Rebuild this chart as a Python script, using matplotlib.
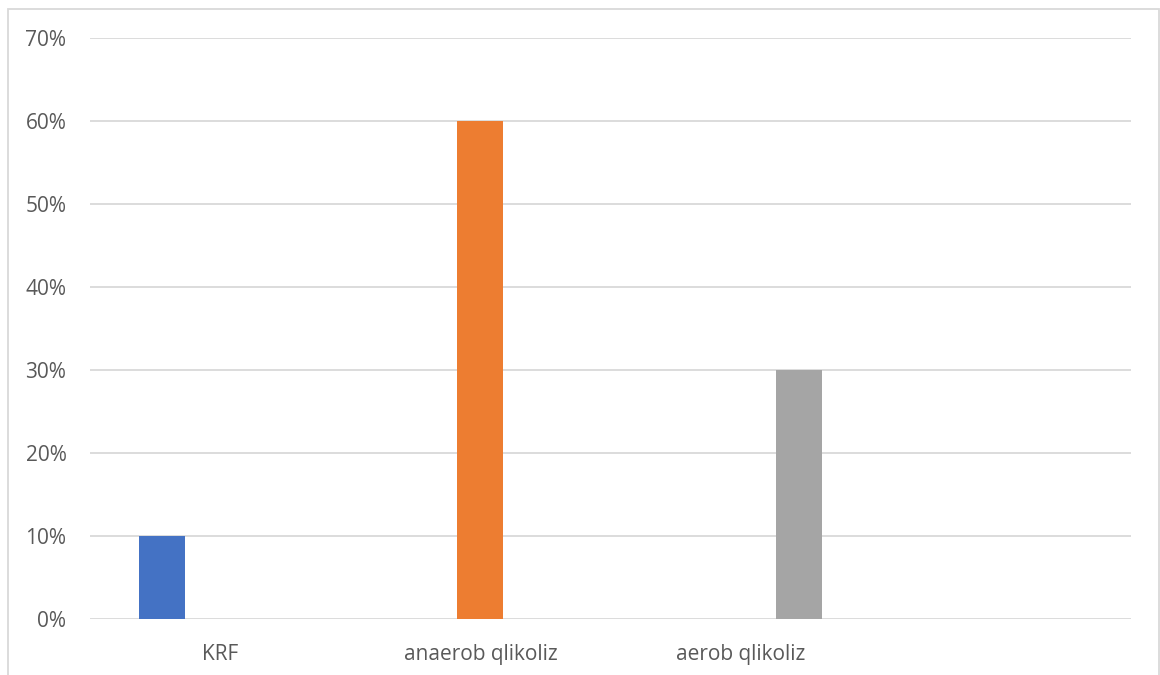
import matplotlib
matplotlib.use("Agg")
import matplotlib.pyplot as plt
from matplotlib.patches import Rectangle
from matplotlib.ticker import FuncFormatter
import numpy as np

categories = ["KRF", "anaerob qlikoliz", "aerob qlikoliz", ""]
series1 = [0.10, 0.0, 0.0, 0.0]
series2 = [0.0, 0.60, 0.0, 0.0]
series3 = [0.0, 0.0, 0.30, 0.0]
colors = ["#4472C4", "#ED7D31", "#A5A5A5"]

plt.rcParams["font.family"] = ["Open Sans", "DejaVu Sans"]
fig = plt.figure(figsize=(11.6, 6.75), dpi=100)
ax = fig.add_axes([90 / 1160, 1 - 619 / 675, (1131 - 90) / 1160, (619 - 38) / 675])

x = np.arange(len(categories))
w = 0.177
off = 0.223
for i, (vals, c) in enumerate(zip([series1, series2, series3], colors)):
    ax.bar(x + (i - 1) * off, vals, width=w, color=c, linewidth=0, zorder=3)

ax.set_xlim(-0.5, len(categories) - 0.5)
ax.set_ylim(0, 0.70)
ax.set_yticks(np.arange(0, 0.71, 0.10))
ax.yaxis.set_major_formatter(FuncFormatter(lambda v, p: f"{v*100:.0f}%"))
ax.set_xticks(x)
ax.set_xticklabels(categories)
ax.grid(axis="y", color="#d9d9d9", linewidth=1.3, zorder=0)
for s in ax.spines.values():
    s.set_visible(False)
ax.tick_params(axis="both", length=0, labelsize=15, colors="#595959")
ax.tick_params(axis="x", pad=18)
ax.tick_params(axis="y", pad=17)

fig.patches.append(Rectangle((8 / 1160, -0.02), (1159 - 8) / 1160, 1 - 9 / 675 + 0.02,
                             transform=fig.transFigure, fill=False,
                             edgecolor="#d9d9d9", linewidth=1.3))

fig.savefig("out.png", dpi=100)
